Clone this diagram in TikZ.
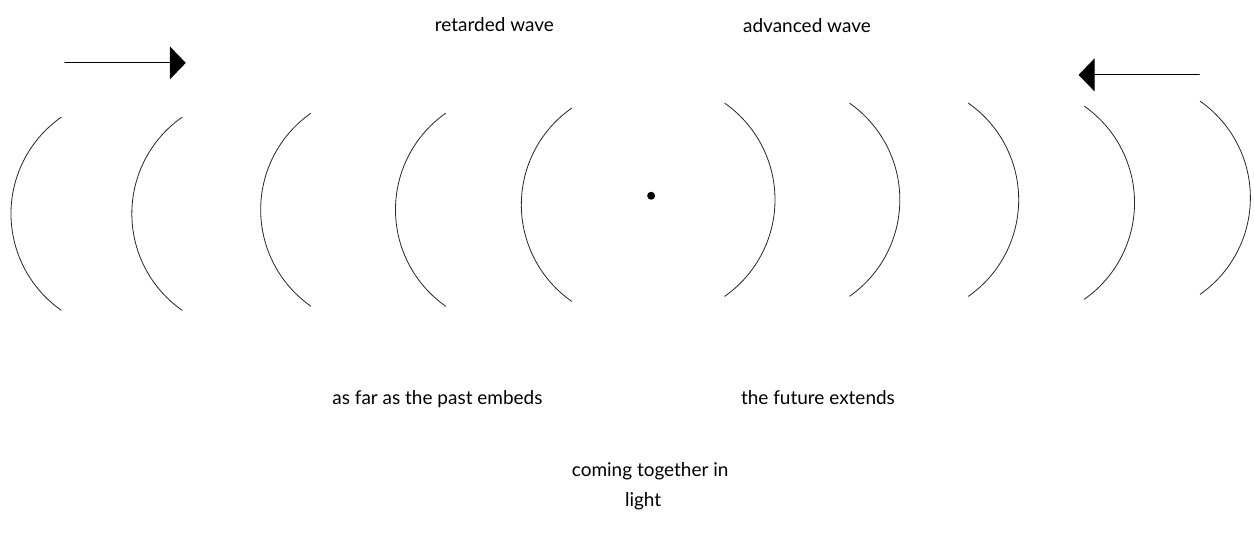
\documentclass[tikz,border=0pt]{standalone}
\usepackage{fontspec}
\setmainfont{Lato}
\usetikzlibrary{arrows.meta}

\begin{document}
\begin{tikzpicture}[x=1pt,y=-1pt,>={Triangle[length=16pt,width=33pt]},line cap=round,line join=round]
\path[fill=white] (0,0) rectangle (1254,548);
\tikzset{front/.style={draw=black!85,line width=0.8pt},caption/.style={font=\fontsize{19}{22}\selectfont,text=black,anchor=base}}
% fronts coming in from the past side
\foreach \x/\y in {11/214,132/214,261/210,396/210,522/205}
  \draw[front] ([shift={(\x+118,\y)}]125:118) arc[start angle=125,end angle=235,radius=118];
% fronts coming in from the future side
\foreach \x/\y in {776/200,901/200,1020/200,1136/203,1252/198}
  \draw[front] ([shift={(\x-118,\y)}]-55:118) arc[start angle=-55,end angle=55,radius=118];
\node[circle,fill=black,inner sep=0pt,minimum size=8pt] (source) at (652,196) {};
\coordinate (pastTail) at (65,63);
\coordinate (pastHead) at (186,63);
\draw[draw=black,line width=0.9pt,->] (pastTail) -- (pastHead);
\coordinate (futureTail) at (1201,75);
\coordinate (futureHead) at (1080,75);
\draw[draw=black,line width=0.9pt,->] (futureTail) -- (futureHead);
\node[caption] (retarded) at (495,32) {retarded wave};
\node[caption] (advanced) at (808,33) {advanced wave};
\node[caption] (past) at (438,405) {as far as the past embeds};
\node[caption] (future) at (819,405) {the future extends};
\node[caption] (coming) at (651,477) {coming together in};
\node[caption] (light) at (644,507) {light};
\end{tikzpicture}
\end{document}
